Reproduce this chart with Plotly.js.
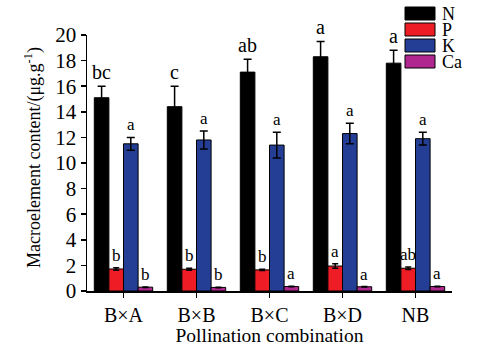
<!DOCTYPE html>
<html><head><meta charset="utf-8">
<script src="https://cdn.plot.ly/plotly-3.0.1.min.js"></script>
<style>html,body{margin:0;padding:0;background:#fff}#c{width:480px;height:350px}</style>
</head><body><div id="c"></div>
<script>
const categories = ["B×A","B×B","B×C","B×D","NB"];
const seriesNames = ["N","P","K","Ca"];
const colors = ["#000000","#ee1d25","#233e94","#b0278f"];
const N = [15.1, 14.4, 17.1, 18.3, 17.8];
const N_err = [0.9, 1.6, 1.0, 1.2, 1.0];
const P = [1.72, 1.70, 1.65, 1.95, 1.78];
const P_err = [0.10, 0.08, 0.05, 0.18, 0.10];
const K = [11.5, 11.8, 11.4, 12.3, 11.9];
const K_err = [0.5, 0.7, 1.0, 0.8, 0.5];
const Ca = [0.30, 0.28, 0.35, 0.33, 0.35];
const Ca_err = [0.02, 0.02, 0.02, 0.02, 0.02];
const N_letters = ["bc","c","ab","a","a"];
const P_letters = ["b","b","b","a","ab"];
const K_letters = ["a","a","a","a","a"];
const Ca_letters = ["b","b","a","a","a"];

const values = [N, P, K, Ca];
const errs = [N_err, P_err, K_err, Ca_err];
const letters = [N_letters, P_letters, K_letters, Ca_letters];
const font = "Liberation Serif";

const traces = values.map((v, j) => ({
  type: "bar", name: seriesNames[j], x: categories, y: v,
  marker: {color: colors[j], line: {color: "#000", width: 1}},
  error_y: {type: "data", array: errs[j], visible: true, color: "#000", thickness: 1.5, width: j===0||j===2 ? 4 : 3},
  showlegend: false
}));

const bw = 0.8 / 4;
const annotations = [];
values.forEach((v, j) => {
  v.forEach((val, i) => {
    annotations.push({
      x: i + (j - 1.5) * bw, y: val + errs[j][i], xref: "x", yref: "y",
      text: letters[j][i], showarrow: false, yanchor: "bottom", yshift: 1,
      font: {family: font, size: j===0 ? 20 : 17, color: "#000"}
    });
  });
});
// custom legend
const shapes = [];
seriesNames.forEach((nm, j) => {
  const y0 = 7 + j * 16;
  shapes.push({type: "rect", xref: "paper", yref: "paper",
    x0: (405 - 87) / 365, x1: (435 - 87) / 365,
    y0: (291 - (y0 + 13)) / 256, y1: (291 - y0) / 256,
    fillcolor: colors[j], line: {color: "#000", width: 1}});
  annotations.push({xref: "paper", yref: "paper", x: (440 - 87) / 365, y: (291 - (y0 + 6.5)) / 256,
    xanchor: "left", yanchor: "middle", showarrow: false, text: nm,
    font: {family: font, size: 18, color: "#000"}});
});
// y-axis title
annotations.push({xref: "paper", yref: "paper", x: 0, xshift: -54, y: (291 - 158) / 256,
  xanchor: "center", yanchor: "middle", textangle: -90, showarrow: false,
  text: "Macroelement content/(μg.g<sup>-1</sup>)", font: {family: font, size: 18, color: "#000"}});

const layout = {
  width: 480, height: 350,
  margin: {l: 87, r: 28, t: 35, b: 59},
  paper_bgcolor: "#fff", plot_bgcolor: "#fff",
  barmode: "group", bargap: 0.2, bargroupgap: 0,
  font: {family: font, size: 20, color: "#000"},
  xaxis: {type: "category", range: [-0.5, 4.5], showline: true, linecolor: "#000", linewidth: 1.5,
    ticks: "outside", ticklen: 5, tickwidth: 1.5, tickcolor: "#000", showgrid: false, zeroline: false,
    tickfont: {family: font, size: 20},
    title: {text: "Pollination combination", font: {family: font, size: 19.5}, standoff: 2}},
  yaxis: {range: [0, 20], dtick: 2, showline: true, linecolor: "#000", linewidth: 1.5,
    ticks: "outside", ticklen: 5, tickwidth: 1.5, tickcolor: "#000", showgrid: false, zeroline: false,
    tickfont: {family: font, size: 21}},
  annotations: annotations, shapes: shapes
};
Plotly.newPlot("c", traces, layout, {displayModeBar: false, staticPlot: true});
</script></body></html>
